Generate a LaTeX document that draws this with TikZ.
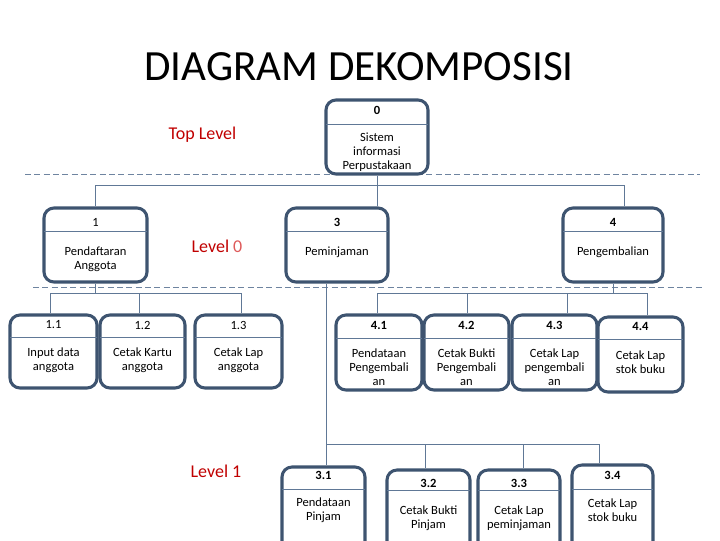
\documentclass[tikz,border=0pt]{standalone}
\usepackage{fontspec}
\setmainfont{Carlito}
\definecolor{boxc}{RGB}{62,84,112}
\definecolor{connc}{RGB}{96,120,150}
\definecolor{dashc}{RGB}{110,132,160}
\definecolor{lvlred}{RGB}{192,0,0}
\definecolor{lvlpink}{RGB}{222,90,90}
\newcommand\pbox[6]{%
  \node[procbox, minimum width={(#3-#2)*0.75pt}, minimum height={(#5-#4)*0.75pt}] (#1) at ({(#2+#3)/2},{(#4+#5)/2}) {};
  \draw[divline] (#2,#6) -- (#3,#6);
}
\begin{document}
\begin{tikzpicture}[x=0.75pt,y=-0.75pt,
  procbox/.style={draw=boxc, line width=2.3pt, rounded corners=7.5pt, inner sep=0pt, fill=none},
  divline/.style={draw=connc, line width=0.7pt},
  conn/.style={draw=connc, line width=0.75pt},
  sepline/.style={draw=dashc, line width=0.75pt, dash pattern=on 4.5pt off 2.5pt},
  hdr/.style={font=\fontsize{9.4}{10.8}\selectfont, inner sep=0pt},
  hdrb/.style={font=\fontsize{9.4}{10.8}\selectfont\bfseries, inner sep=0pt},
  body/.style={font=\fontsize{9.4}{10.6}\selectfont, align=center, inner sep=0pt},
  lvl/.style={font=\fontsize{13.5}{16}\selectfont, text=lvlred, inner sep=0pt}
]
\useasboundingbox (0,0) rectangle (720,540);
\clip (0,0) rectangle (720,540);

% title
\node[font=\fontsize{32.3}{38}\selectfont, inner sep=0pt] (title) at (359,67) {DIAGRAM DEKOMPOSISI};

% level labels
\node[lvl] (ltop) at (202.5,135) {Top Level};
\node[lvl] (l0) at (217,246) {Level \textcolor{lvlpink}{0}};
\node[lvl] (l1) at (216,471) {Level 1};

% separator lines
\coordinate (s1a) at (25,174); \coordinate (s1b) at (700,174);
\coordinate (s2a) at (33,287); \coordinate (s2b) at (703,287);
\draw[sepline] (s1a) -- (s1b);
\draw[sepline] (s2a) -- (s2b);

% boxes
\pbox{n0}{326}{428}{100}{174}{124}
\node[hdrb] (n0h) at (377,110) {0};
\node[body] (n0b) at (377,152) {Sistem\\informasi\\Perpustakaan};

\pbox{n1}{44}{147}{208}{282}{231}
\node[hdr] (n1h) at (95.5,222) {1};
\node[body] (n1b) at (95.5,259) {Pendaftaran\\Anggota};

\pbox{n3}{286}{388}{208}{282}{231}
\node[hdrb] (n3h) at (337,222) {3};
\node[body] (n3b) at (337,252) {Peminjaman};

\pbox{n4}{563}{663}{208}{282}{231}
\node[hdrb] (n4h) at (613,222) {4};
\node[body] (n4b) at (613,252) {Pengembalian};

\pbox{n11}{10}{97}{315}{388}{337}
\node[hdr] (n11h) at (53.5,325) {1.1};
\node[body] (n11b) at (53.5,360) {Input data\\anggota};
\pbox{n12}{100}{185}{315}{388}{337}
\node[hdr] (n12h) at (142.5,325) {1.2};
\node[body] (n12b) at (142.5,360) {Cetak Kartu\\anggota};
\pbox{n13}{195}{282}{315}{388}{337}
\node[hdr] (n13h) at (238.5,325) {1.3};
\node[body] (n13b) at (238.5,360) {Cetak Lap\\anggota};

\pbox{n41}{336}{422}{315}{390}{338}
\node[hdrb] (n41h) at (379,325) {4.1};
\node[body] (n41b) at (379,367) {Pendataan\\Pengembali\\an};
\pbox{n42}{424}{509}{315}{390}{338}
\node[hdrb] (n42h) at (466.5,325) {4.2};
\node[body] (n42b) at (466.5,367) {Cetak Bukti\\Pengembali\\an};
\pbox{n43}{512}{597}{315}{390}{338}
\node[hdrb] (n43h) at (554.5,325) {4.3};
\node[body] (n43b) at (554.5,367) {Cetak Lap\\pengembali\\an};
\pbox{n44}{598}{683}{317}{392}{339}
\node[hdrb] (n44h) at (640.5,326) {4.4};
\node[body] (n44b) at (640.5,362) {Cetak Lap\\stok buku};

\pbox{n31}{282}{365}{467}{562}{489}
\node[hdrb] (n31h) at (323.5,475) {3.1};
\node[body] (n31b) at (323.5,510) {Pendataan\\Pinjam};
\pbox{n32}{387}{470}{470}{562}{490}
\node[hdrb] (n32h) at (428.5,483) {3.2};
\node[body] (n32b) at (428.5,518) {Cetak Bukti\\Pinjam};
\pbox{n33}{478}{560}{470}{562}{490}
\node[hdrb] (n33h) at (519,483) {3.3};
\node[body] (n33b) at (519,518) {Cetak Lap\\peminjaman};
\pbox{n34}{572}{653}{465}{562}{489}
\node[hdrb] (n34h) at (612.5,475) {3.4};
\node[body] (n34b) at (612.5,510) {Cetak Lap\\stok buku};

% connector attachment points
\coordinate (bus0) at (0,185);
\coordinate (bus1) at (0,293);
\coordinate (bus4) at (0,293);
\coordinate (bus3) at (0,444);
\coordinate (n3t) at ([xshift=30pt]n3.north);
\coordinate (n4t) at ([xshift=8.5pt]n4.north);
\coordinate (n3s) at ([xshift=-8.25pt]n3.south);
\coordinate (n11t) at ([xshift=-2.6pt]n11.north);
\coordinate (n12t) at ([xshift=-1.9pt]n12.north);
\coordinate (n13t) at ([xshift=1.9pt]n13.north);
\coordinate (n41t) at ([xshift=-1.5pt]n41.north);
\coordinate (n42t) at ([xshift=0.4pt]n42.north);
\coordinate (n43t) at ([xshift=10.1pt]n43.north);
\coordinate (n44t) at ([xshift=4.9pt]n44.north);
\coordinate (n31t) at ([xshift=1.9pt]n31.north);
\coordinate (n32t) at ([xshift=-1.9pt]n32.north);
\coordinate (n33t) at ([xshift=3pt]n33.north);
\coordinate (n34t) at ([xshift=-10.1pt]n34.north);

% level 0 tree
\draw[conn] (n0.south) -- (n0.south |- bus0);
\draw[conn] (n1.north) -- (n1.north |- bus0) -- (n4t |- bus0) -- (n4t);
\draw[conn] (n3t |- bus0) -- (n3t);

% tree of 1
\draw[conn] (n1.south) -- (n1.south |- bus1);
\draw[conn] (n11t) -- (n11t |- bus1) -- (n13t |- bus1) -- (n13t);
\draw[conn] (n12t |- bus1) -- (n12t);

% tree of 4
\draw[conn] (n4.south) -- (n4.south |- bus4);
\draw[conn] (n41t) -- (n41t |- bus4) -- (n44t |- bus4) -- (n44t);
\draw[conn] (n42t |- bus4) -- (n42t);
\draw[conn] (n43t |- bus4) -- (n43t);

% tree of 3
\draw[conn] (n3s) -- (n3s |- bus3) -- (n34t |- bus3) -- (n34t);
\draw[conn] (n31t |- bus3) -- (n31t);
\draw[conn] (n32t |- bus3) -- (n32t);
\draw[conn] (n33t |- bus3) -- (n33t);
\end{tikzpicture}
\end{document}
